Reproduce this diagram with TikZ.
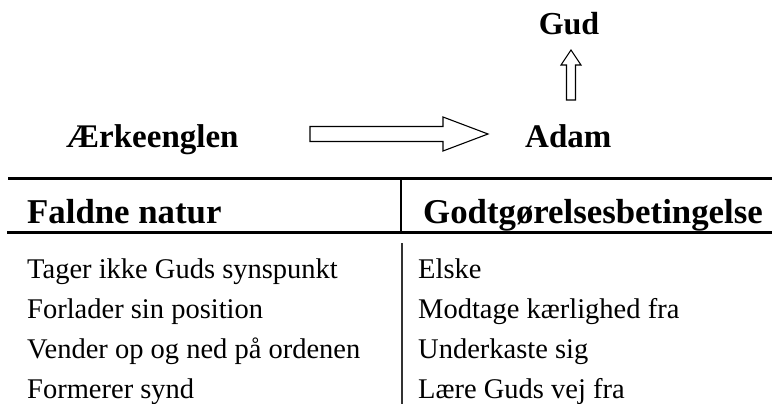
\documentclass[tikz,border=0pt]{standalone}
\usepackage{fontspec}
\setmainfont{Liberation Serif}
\usetikzlibrary{calc}
\begin{document}
\begin{tikzpicture}[x=1pt,y=-1pt,
  toplbl/.style={anchor=base west, inner sep=0pt, font=\fontsize{33}{36}\selectfont\bfseries},
  headlbl/.style={anchor=base west, inner sep=0pt, font=\fontsize{34.8}{38}\selectfont\bfseries},
  bodylbl/.style={anchor=base west, inner sep=0pt, font=\fontsize{28.5}{32}\selectfont},
  blockarrow/.style={draw=black, fill=white, line width=1.1pt, line join=miter},
  rule/.style={draw=black, line width=3pt},
  colrule/.style={draw=black, line width=2.5pt},
  thinrule/.style={draw=black!80, line width=1.4pt}]
\useasboundingbox (0,0) rectangle (772,404);

% top labels
\node[anchor=base, inner sep=0pt, font=\fontsize{32}{34}\selectfont\bfseries] (gud) at (569,35) {Gud};
\node[toplbl] (aerke) at (66,147) {Ærkeenglen};
\node[toplbl] (adam) at (525,147) {Adam};

% horizontal block arrow Ærkeenglen -> Adam
\coordinate (hs) at (310,134);
\coordinate (he) at (488,134);
\draw[blockarrow] ($(hs)+(0,-7.5)$) -- ($(he)+(-45,-7.5)$) -- ($(he)+(-45,-17)$) -- (he)
  -- ($(he)+(-45,17)$) -- ($(he)+(-45,7.5)$) -- ($(hs)+(0,7.5)$) -- cycle;

% vertical block arrow Adam -> Gud
\coordinate (vs) at (571,100);
\coordinate (ve) at (571,50);
\draw[blockarrow] ($(vs)+(-4.5,0)$) -- ($(ve)+(-4.5,15)$) -- ($(ve)+(-10,15)$) -- (ve)
  -- ($(ve)+(10,15)$) -- ($(ve)+(4.5,15)$) -- ($(vs)+(4.5,0)$) -- cycle;

% table rules
\coordinate (t1l) at (8,178);   \coordinate (t1r) at (772,178);
\coordinate (t2l) at (7,232);   \coordinate (t2r) at (772,232);
\coordinate (c1t) at (401,178); \coordinate (c1b) at (401,232);
\coordinate (c2t) at (402,243); \coordinate (c2b) at (402,404);
\draw[rule] (t1l) -- (t1r);
\draw[rule] (t2l) -- (t2r);
\draw[colrule] (c1t) -- (c1b);
\draw[thinrule] (c2t) -- (c2b);

% header
\node[headlbl] (hleft) at (27,223) {Faldne natur};
\node[headlbl] (hright) at (423,223) {Godtgørelsesbetingelse};

% body left
\node[bodylbl] (l1) at (27,278) {Tager ikke Guds synspunkt};
\node[bodylbl] (l2) at (27,318) {Forlader sin position};
\node[bodylbl] (l3) at (27,358) {Vender op og ned på ordenen};
\node[bodylbl] (l4) at (27,398) {Formerer synd};

% body right
\node[bodylbl] (r1) at (418,278) {Elske};
\node[bodylbl] (r2) at (418,318) {Modtage kærlighed fra};
\node[bodylbl] (r3) at (418,358) {Underkaste sig};
\node[bodylbl] (r4) at (418,398) {Lære Guds vej fra};
\end{tikzpicture}
\end{document}
